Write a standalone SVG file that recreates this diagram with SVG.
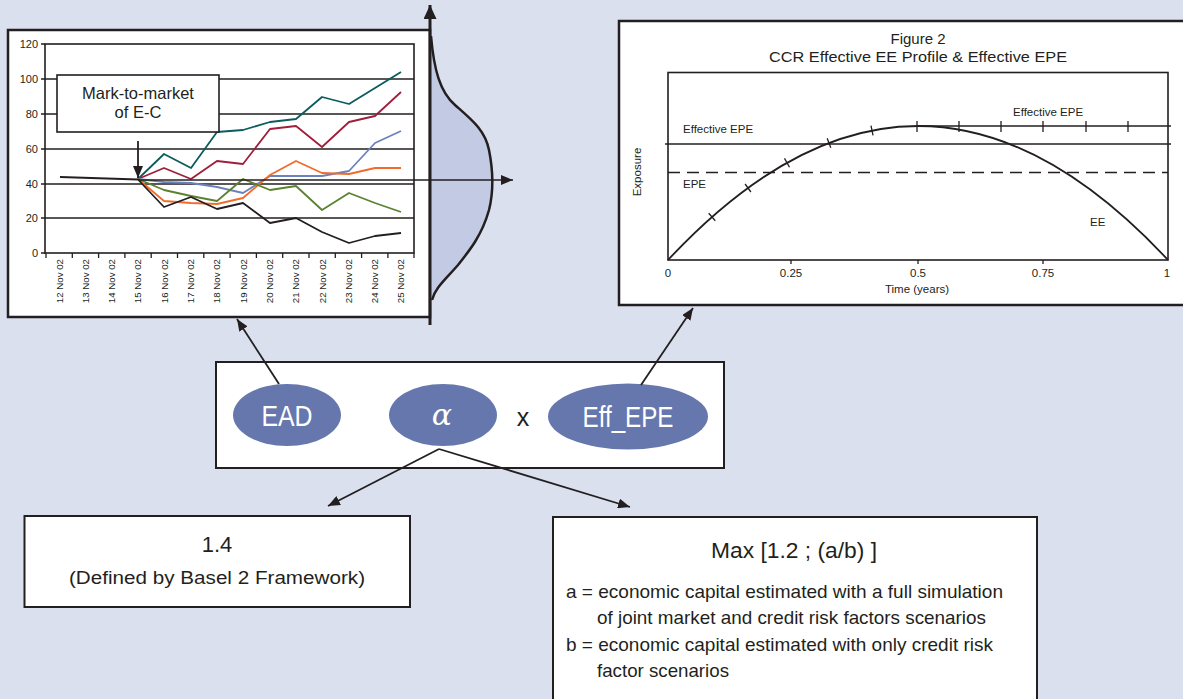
<svg xmlns="http://www.w3.org/2000/svg" width="1183" height="699" viewBox="0 0 1183 699">
  <style>
    .t { font-family: "Liberation Sans", Arial, sans-serif; fill: #231f20; }
    .frame { fill: #ffffff; stroke: #231f20; stroke-width: 2.5; }
    .box { fill: #ffffff; stroke: #231f20; stroke-width: 2; }
    .grid { stroke: #231f20; stroke-width: 1.6; fill: none; }
    .thin { stroke: #231f20; stroke-width: 1.3; fill: none; }
    .series { fill: none; stroke-width: 1.8; stroke-linejoin: round; }
    .conn { stroke: #231f20; stroke-width: 1.8; fill: none; }
    .oval { fill: #6677ad; }
    .ovaltxt { font-family: "Liberation Sans", Arial, sans-serif; fill: #ffffff; text-anchor: middle; }
  </style>
  <defs>
    <marker id="ah" viewBox="0 0 12 10" refX="12" refY="5" markerWidth="12" markerHeight="10" orient="auto" markerUnits="userSpaceOnUse">
      <path d="M0,0 L12,5 L0,10 Z" fill="#231f20"/>
    </marker>
    <marker id="ahBig" viewBox="0 0 14 13" refX="14" refY="6.5" markerWidth="14" markerHeight="13" orient="auto" markerUnits="userSpaceOnUse">
      <path d="M0,0 L14,6.5 L0,13 Z" fill="#231f20"/>
    </marker>
  </defs>

  <rect x="0" y="0" width="1183" height="699" fill="#dae0ee"/>

  <!-- Mark-to-market time series chart with exposure distribution -->
  <g id="mtm-chart">
    <rect class="frame" x="8" y="30" width="422" height="287"/>
    <!-- distribution of future values -->
    <path d="M430,36 C434,70 440,92 455,105 C472,120 485,130 489,150 C493,170 494,190 489,210 C482,235 470,250 458,265 C445,280 435,288 432,300 L430,300 Z" fill="#c3cae3" stroke="none"/>
    <path d="M431,36 C434,70 440,92 455,105 C472,120 485,130 489,150 C493,170 494,190 489,210 C482,235 470,250 458,265 C445,280 435,288 432,300" fill="none" stroke="#231f20" stroke-width="2.5"/>
    <!-- vertical value axis -->
    <line x1="430" y1="325" x2="430" y2="5" stroke="#231f20" stroke-width="3" marker-end="url(#ahBig)"/>

    <!-- plot area and gridlines -->
    <rect x="45" y="44" width="369" height="209" fill="none" stroke="#231f20" stroke-width="1.6"/>
    <path class="grid" d="M45,79H414 M45,114H414 M45,149H414 M45,184H414 M45,218H414"/>
    <path class="thin" d="M41,44H45 M41,79H45 M41,114H45 M41,149H45 M41,184H45 M41,218H45 M41,253H45"/>
    <path class="thin" d="M46,253V258 M72.3,253V258 M98.6,253V258 M124.9,253V258 M151.2,253V258 M177.5,253V258 M203.8,253V258 M230.1,253V258 M256.4,253V258 M282.7,253V258 M309,253V258 M335.3,253V258 M361.6,253V258 M387.9,253V258 M414,253V258"/>
    <g class="t" font-size="11" text-anchor="end">
      <text x="38" y="48">120</text>
      <text x="38" y="83">100</text>
      <text x="38" y="118">80</text>
      <text x="38" y="153">60</text>
      <text x="38" y="188">40</text>
      <text x="38" y="222">20</text>
      <text x="38" y="257">0</text>
    </g>
    <g class="t" font-size="9.7" text-anchor="end">
      <text transform="translate(62.5,259) rotate(-90)">12 Nov 02</text>
      <text transform="translate(88.8,259) rotate(-90)">13 Nov 02</text>
      <text transform="translate(115.1,259) rotate(-90)">14 Nov 02</text>
      <text transform="translate(141.4,259) rotate(-90)">15 Nov 02</text>
      <text transform="translate(167.7,259) rotate(-90)">16 Nov 02</text>
      <text transform="translate(194,259) rotate(-90)">17 Nov 02</text>
      <text transform="translate(220.3,259) rotate(-90)">18 Nov 02</text>
      <text transform="translate(246.6,259) rotate(-90)">19 Nov 02</text>
      <text transform="translate(272.9,259) rotate(-90)">20 Nov 02</text>
      <text transform="translate(299.2,259) rotate(-90)">21 Nov 02</text>
      <text transform="translate(325.5,259) rotate(-90)">22 Nov 02</text>
      <text transform="translate(351.8,259) rotate(-90)">23 Nov 02</text>
      <text transform="translate(378.1,259) rotate(-90)">24 Nov 02</text>
      <text transform="translate(404.4,259) rotate(-90)">25 Nov 02</text>
    </g>

    <!-- simulated paths -->
    <polyline class="series" stroke="#0b5c5e" points="138,179 164,154 191,168 217,132 243,130 270,122 296,119 322,97 349,104 375,88 401,72"/>
    <polyline class="series" stroke="#a11d3c" points="138,179 164,168 191,179 217,161 243,164 270,129 296,126 322,147 349,122 375,116 401,92"/>
    <polyline class="series" stroke="#6b82bd" points="138,179 164,182 191,183 217,187 243,193 270,176 296,176 322,176 349,171 375,143 401,131"/>
    <polyline class="series" stroke="#f26b2a" points="138,179 164,201 191,203 217,204 243,198 270,175 296,161 322,173 349,174 375,168 401,168"/>
    <polyline class="series" stroke="#5a822f" points="138,179 164,190 191,196 217,201 243,179 270,190 296,186 322,210 349,193 375,203 401,212"/>
    <polyline class="series" stroke="#231f20" points="60,177 138,179.5 164,207 191,197 217,209 243,203 270,223 296,218 322,232 349,243 375,236 401,233"/>

    <!-- horizontal time axis through today's value -->
    <line x1="138" y1="180" x2="513" y2="180" stroke="#231f20" stroke-width="1.6" marker-end="url(#ah)"/>

    <!-- callout -->
    <rect x="57" y="75" width="162" height="57" fill="#ffffff" stroke="#231f20" stroke-width="1.6"/>
    <text class="t" x="138" y="99" font-size="16.5" text-anchor="middle">Mark-to-market</text>
    <text class="t" x="138" y="118" font-size="16.5" text-anchor="middle">of E-C</text>
    <line x1="138" y1="141" x2="138" y2="178" stroke="#231f20" stroke-width="1.8" marker-end="url(#ah)"/>
  </g>

  <!-- Effective EE profile chart -->
  <g id="epe-chart">
    <rect class="frame" x="619" y="21" width="600" height="284"/>
    <text class="t" x="918" y="44" font-size="15" text-anchor="middle">Figure 2</text>
    <text class="t" x="918" y="62" font-size="15" text-anchor="middle" textLength="298" lengthAdjust="spacingAndGlyphs">CCR Effective EE Profile &amp; Effective EPE</text>

    <rect x="668" y="72.5" width="500" height="187.5" fill="none" stroke="#231f20" stroke-width="1.6"/>
    <line x1="665" y1="144" x2="1171" y2="144" stroke="#231f20" stroke-width="1.6"/>
    <line x1="918" y1="126" x2="1171" y2="126" stroke="#231f20" stroke-width="1.6"/>
    <line x1="668" y1="172.5" x2="1168" y2="172.5" stroke="#231f20" stroke-width="1.6" stroke-dasharray="12 7"/>
    <path d="M668,260 Q918,-8 1168,260" fill="none" stroke="#231f20" stroke-width="1.8"/>
    <!-- monthly time steps -->
    <path class="thin" stroke-width="1.5" d="M708.7,213.3L715.3,220.7 M745.1,184L750.9,192 M784.5,158.4L789.5,167.2 M827.2,138.3L830.8,147.7 M871,125.6L873,135.4 M917,121V132 M959,121V132 M1001,121V132 M1043,121V132 M1086,121V132 M1128,121V132"/>
    <path class="thin" d="M791,260V264 M918,260V264 M1043,260V264"/>

    <g class="t" font-size="11.5">
      <text x="683" y="133">Effective EPE</text>
      <text x="1013" y="116">Effective EPE</text>
      <text x="683" y="188">EPE</text>
      <text x="1090" y="226">EE</text>
      <text transform="translate(641,172) rotate(-90)" text-anchor="middle">Exposure</text>
    </g>
    <g class="t" font-size="11.5" text-anchor="middle">
      <text x="668" y="277">0</text>
      <text x="791" y="277">0.25</text>
      <text x="918" y="277">0.5</text>
      <text x="1043" y="277">0.75</text>
      <text x="1167" y="277">1</text>
      <text x="917" y="293">Time (years)</text>
    </g>
  </g>

  <!-- Formula: EAD = alpha x Eff_EPE -->
  <g id="formula">
    <rect class="box" x="216" y="362" width="508" height="106"/>
  </g>
  <g id="ead">
    <ellipse class="oval" cx="287" cy="415" rx="54" ry="31"/>
    <text class="ovaltxt" x="287" y="426" font-size="30" textLength="51" lengthAdjust="spacingAndGlyphs">EAD</text>
  </g>
  <g id="alpha">
    <ellipse class="oval" cx="443" cy="415" rx="54" ry="31"/>
    <text x="442" y="425" font-family="'DejaVu Serif', 'Liberation Serif', serif" font-style="italic" font-size="30" fill="#ffffff" text-anchor="middle">α</text>
  </g>
  <g id="times">
    <text class="t" x="523" y="426" font-size="25" text-anchor="middle">x</text>
  </g>
  <g id="eff-epe">
    <ellipse class="oval" cx="628" cy="416.5" rx="80" ry="33"/>
    <text class="ovaltxt" x="628" y="427" font-size="30" textLength="91" lengthAdjust="spacingAndGlyphs">Eff_EPE</text>
  </g>

  <!-- alpha alternatives -->
  <g id="alpha-fixed">
    <rect class="box" x="24.5" y="516" width="385.5" height="91"/>
    <text class="t" x="217" y="552" font-size="22" text-anchor="middle">1.4</text>
    <text class="t" x="217" y="584" font-size="17.5" text-anchor="middle" textLength="296" lengthAdjust="spacingAndGlyphs">(Defined by Basel 2 Framework)</text>
  </g>
  <g id="alpha-max">
    <rect class="box" x="553" y="517" width="484" height="200"/>
    <text class="t" x="794" y="558" font-size="22" text-anchor="middle" textLength="166" lengthAdjust="spacingAndGlyphs">Max [1.2 ; (a/b) ]</text>
    <g class="t" font-size="18.5">
      <text x="566" y="598" textLength="437" lengthAdjust="spacingAndGlyphs">a = economic capital estimated with a full simulation</text>
      <text x="597" y="624" textLength="389" lengthAdjust="spacingAndGlyphs">of joint market and credit risk factors scenarios</text>
      <text x="566" y="651" textLength="427" lengthAdjust="spacingAndGlyphs">b = economic capital estimated with only credit risk</text>
      <text x="597" y="677" textLength="132" lengthAdjust="spacingAndGlyphs">factor scenarios</text>
    </g>
  </g>

  <!-- connectors -->
  <g id="connectors">
    <line class="conn" x1="279" y1="384" x2="237" y2="319" marker-end="url(#ah)"/>
    <line class="conn" x1="641" y1="385" x2="693" y2="308" marker-end="url(#ah)"/>
    <line class="conn" x1="439" y1="449" x2="328" y2="506" marker-end="url(#ah)"/>
    <line class="conn" x1="439" y1="449" x2="630" y2="507" marker-end="url(#ah)"/>
  </g>
</svg>
